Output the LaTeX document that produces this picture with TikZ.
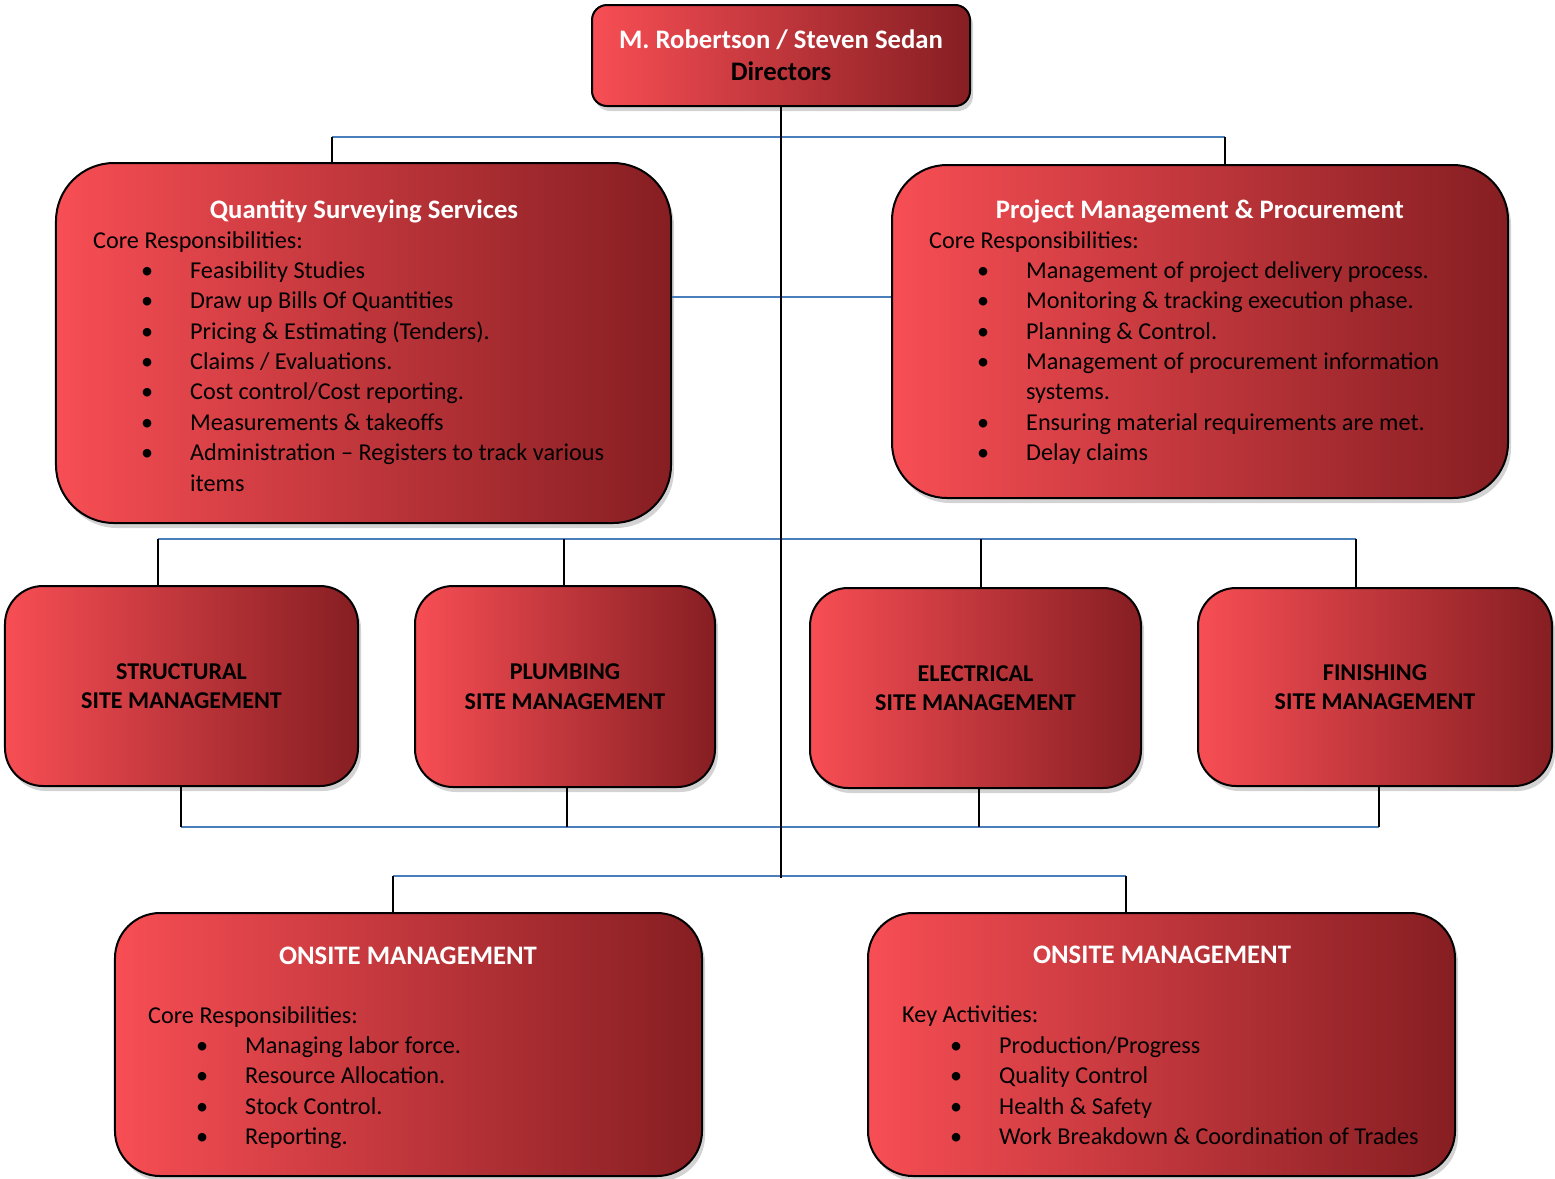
\documentclass[tikz,border=0pt]{standalone}
\usepackage{fontspec}
\setmainfont{Carlito}
\usetikzlibrary{shadows}
\definecolor{boxlight}{RGB}{247,78,84}
\definecolor{boxmid}{RGB}{176,44,50}
\definecolor{boxdark}{RGB}{134,30,34}
\definecolor{busblue}{RGB}{74,126,187}
\tikzset
{
    redbox/.style = {rectangle, draw=black, line width=2bp, left color=boxlight, middle color=boxmid, right color=boxdark, drop shadow={shadow xshift=3bp, shadow yshift=-5bp, opacity=0.35}, inner sep=0pt},
    headbox/.style = {redbox, rounded corners=15bp, align=center, font=\fontsize{26.8}{32}\selectfont\bfseries},
    listbox/.style = {redbox, rounded corners=58bp},
    sitebox/.style = {redbox, rounded corners=38bp, align=center, font=\fontsize{24.2}{29.5}\selectfont\bfseries},
    titletext/.style = {text=white, inner sep=0pt, font=\fontsize{26.8}{32}\selectfont\bfseries},
    listtext/.style = {text=black, align=left, inner sep=0pt, font=\fontsize{24.3}{30.5}\selectfont},
    bus/.style = {draw=busblue, line width=2bp},
    stem/.style = {draw=black, line width=2bp}
}
\newcommand{\bul}[1]{\\\hspace*{48bp}\makebox[49bp][l]{\textbullet}#1}
\newcommand{\wrapline}[1]{\\\hspace*{97bp}#1}

\begin{document}
\begin{tikzpicture}[x=1bp, y=-1bp]
\useasboundingbox (0,0) rectangle (1555,1178);

% directors
\node[headbox, minimum width=378bp, minimum height=101bp] (dir) at (781,55.5)
  {\textcolor{white}{M. Robertson / Steven Sedan}\\Directors};

% second level
\node[listbox, minimum width=615bp, minimum height=360bp] (qs) at (363.5,343) {};
\node[titletext] (qstitle) at (364,211) {Quantity Surveying Services};
\node[listtext, anchor=north west] (qslist) at (93,231) {Core Responsibilities:
  \bul{Feasibility Studies}
  \bul{Draw up Bills Of Quantities}
  \bul{Pricing \& Estimating (Tenders).}
  \bul{Claims / Evaluations.}
  \bul{Cost control/Cost reporting.}
  \bul{Measurements \& takeoffs}
  \bul{Administration -- Registers to track various}
  \wrapline{items}};

\node[listbox, rounded corners=55bp, minimum width=616bp, minimum height=333bp] (pm) at (1200,331.5) {};
\node[titletext] (pmtitle) at (1200,211) {Project Management \& Procurement};
\node[listtext, anchor=north west] (pmlist) at (929,231) {Core Responsibilities:
  \bul{Management of project delivery process.}
  \bul{Monitoring \& tracking execution phase.}
  \bul{Planning \& Control.}
  \bul{Management of procurement information}
  \wrapline{systems.}
  \bul{Ensuring material requirements are met.}
  \bul{Delay claims}};

% site management
\node[sitebox, minimum width=353bp, minimum height=200bp] (str) at (181.5,686) {STRUCTURAL\\SITE MANAGEMENT};
\node[sitebox, minimum width=300bp, minimum height=201bp] (plb) at (565,686.5) {PLUMBING\\SITE MANAGEMENT};
\node[sitebox, minimum width=331bp, minimum height=200bp] (ele) at (975.5,688) {ELECTRICAL\\SITE MANAGEMENT};
\node[sitebox, minimum width=354bp, minimum height=198bp] (fin) at (1375,687) {FINISHING\\SITE MANAGEMENT};

% onsite
\node[listbox, rounded corners=45bp, minimum width=587bp, minimum height=263bp] (onl) at (408.5,1044.5) {};
\node[titletext] (onltitle) at (408,956) {ONSITE MANAGEMENT};
\node[listtext, anchor=north west] (onllist) at (148,1006) {Core Responsibilities:
  \bul{Managing labor force.}
  \bul{Resource Allocation.}
  \bul{Stock Control.}
  \bul{Reporting.}};

\node[listbox, rounded corners=45bp, minimum width=587bp, minimum height=263bp] (onr) at (1161.5,1044.5) {};
\node[titletext] (onrtitle) at (1162,955) {ONSITE MANAGEMENT};
\node[listtext, anchor=north west] (onrlist) at (902,1006) {Key Activities:
  \bul{Production/Progress}
  \bul{Quality Control}
  \bul{Health \& Safety}
  \bul{Work Breakdown \& Coordination of Trades}};

% connectors
\coordinate (trunkend) at (781,878);
\coordinate (qsdrop) at (332,137);
\coordinate (pmdrop) at (1225,137);
\coordinate (midlink) at (781,297);
\coordinate (strdrop) at (158,539);
\coordinate (plbdrop) at (564,539);
\coordinate (eledrop) at (981,539);
\coordinate (findrop) at (1356,539);
\coordinate (strup) at (181,827);
\coordinate (plbup) at (567,827);
\coordinate (eleup) at (979,827);
\coordinate (finup) at (1379,827);
\coordinate (onldrop) at (393,876);
\coordinate (onrdrop) at (1126,876);

\draw[bus] (qsdrop) -- (pmdrop);
\draw[bus] (qs.east |- midlink) -- (pm.west |- midlink);
\draw[bus] (strdrop) -- (findrop);
\draw[bus] (strup) -- (finup);
\draw[bus] (onldrop) -- (onrdrop);

\draw[stem] (dir.south) -- (trunkend);
\draw[stem] (qsdrop) -- (qsdrop |- qs.north);
\draw[stem] (pmdrop) -- (pmdrop |- pm.north);
\draw[stem] (strdrop) -- (strdrop |- str.north);
\draw[stem] (plbdrop) -- (plbdrop |- plb.north);
\draw[stem] (eledrop) -- (eledrop |- ele.north);
\draw[stem] (findrop) -- (findrop |- fin.north);
\draw[stem] (str.south -| strup) -- (strup);
\draw[stem] (plb.south -| plbup) -- (plbup);
\draw[stem] (ele.south -| eleup) -- (eleup);
\draw[stem] (fin.south -| finup) -- (finup);
\draw[stem] (onldrop) -- (onldrop |- onl.north);
\draw[stem] (onrdrop) -- (onrdrop |- onr.north);
\end{tikzpicture}
\end{document}
